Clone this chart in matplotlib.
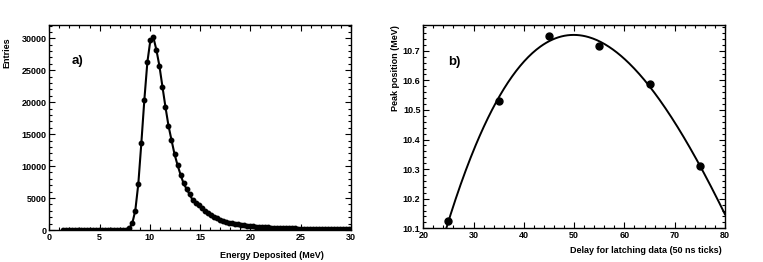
import numpy as np
import matplotlib
matplotlib.use('Agg')
import matplotlib.pyplot as plt
from matplotlib.ticker import MultipleLocator

plt.rcParams['font.family'] = ['Liberation Sans', 'DejaVu Sans']
plt.rcParams['font.weight'] = 'bold'

# ---------------- panel a) energy deposited ----------------
energy = np.round(np.arange(1.35, 30.0, 0.3), 2)
entries = [0] * 20 + [20, 60, 250,
           1040, 3030, 7200, 13560, 20340, 26240, 29700, 30150, 28170, 25670,
           22430, 19250, 16330, 14080, 11890, 10170, 8660, 7300, 6420, 5580,
           4690, 4280, 3910, 3390, 2970, 2610, 2300, 2030, 1830, 1620,
           1460, 1300, 1150, 1050, 950, 880, 800, 740, 680, 620,
           580, 540, 500, 470, 440, 410, 385, 360, 340, 320,
           300, 285, 270, 255, 240, 228, 215, 205, 195, 185,
           175, 167, 160, 152, 145, 138, 132, 126, 120, 115,
           110, 105, 100]

# ---------------- panel b) peak vs delay ----------------
delay = [25, 35, 45, 55, 65, 75]
peak = [10.126, 10.531, 10.751, 10.716, 10.586, 10.311]

W, H = 763, 262
fig = plt.figure(figsize=(W / 100, H / 100), dpi=100)

ax1 = fig.add_axes([49.3 / W, 1 - 230 / H, 301.7 / W, 205 / H])
ax2 = fig.add_axes([423.3 / W, 1 - 228.3 / H, 301.7 / W, 203.3 / H])

ax1.plot(energy, entries, color='black', lw=1.5, zorder=2)
ax1.plot(energy, entries, 'o', color='black', ms=3.2, zorder=3)
ax1.set_xlim(0, 30)
ax1.set_ylim(0, 32080)
ax1.xaxis.set_major_locator(MultipleLocator(5))
ax1.xaxis.set_minor_locator(MultipleLocator(1))
ax1.yaxis.set_major_locator(MultipleLocator(5000))
ax1.yaxis.set_minor_locator(MultipleLocator(1000))
ax1.text((72 - 49.3) / 301.7, 0.825, 'a)', transform=ax1.transAxes,
         fontsize=9.5, fontweight='bold', va='center')

coef = np.polyfit(delay, peak, 3)
xf = np.linspace(20, 80, 300)
ax2.plot(xf, np.polyval(coef, xf), color='black', lw=1.4, zorder=2)
ax2.plot(delay, peak, 'o', color='black', ms=5, zorder=3)
ax2.set_xlim(20, 80)
ax2.set_ylim(10.1, 10.787)
ax2.xaxis.set_major_locator(MultipleLocator(10))
ax2.xaxis.set_minor_locator(MultipleLocator(2))
ax2.yaxis.set_major_locator(MultipleLocator(0.1))
ax2.yaxis.set_minor_locator(MultipleLocator(0.02))
ax2.text((448 - 423.3) / 301.7, 0.82, 'b)', transform=ax2.transAxes,
         fontsize=9.5, fontweight='bold', va='center')

for ax in (ax1, ax2):
    for s in ax.spines.values():
        s.set_linewidth(1.0)
    ax.tick_params(which='both', direction='in', top=True, right=True,
                   labelsize=6.5, width=0.8, pad=2)
    ax.tick_params(which='major', length=4.5)
    ax.tick_params(which='minor', length=2.2)
    for lab in ax.get_xticklabels() + ax.get_yticklabels():
        lab.set_fontweight('bold')

ax2.yaxis.set_major_formatter(plt.FuncFormatter(lambda v, p: f'{v:.1f}'))

fig.text(324 / W, 1 - 256 / H, 'Energy Deposited (MeV)', ha='right',
         va='center', fontsize=6.5, fontweight='bold')
fig.text(6.5 / W, 1 - 37 / H, 'Entries', ha='center', va='top',
         rotation=90, fontsize=6.5, fontweight='bold')
fig.text(721.7 / W, 1 - 250.7 / H, 'Delay for latching data (50 ns ticks)',
         ha='right', va='center', fontsize=6.5, fontweight='bold')
fig.text(395 / W, 1 - 25 / H, 'Peak position (MeV)', ha='center', va='top',
         rotation=90, fontsize=6.5, fontweight='bold')

fig.savefig('out.png', dpi=100)
